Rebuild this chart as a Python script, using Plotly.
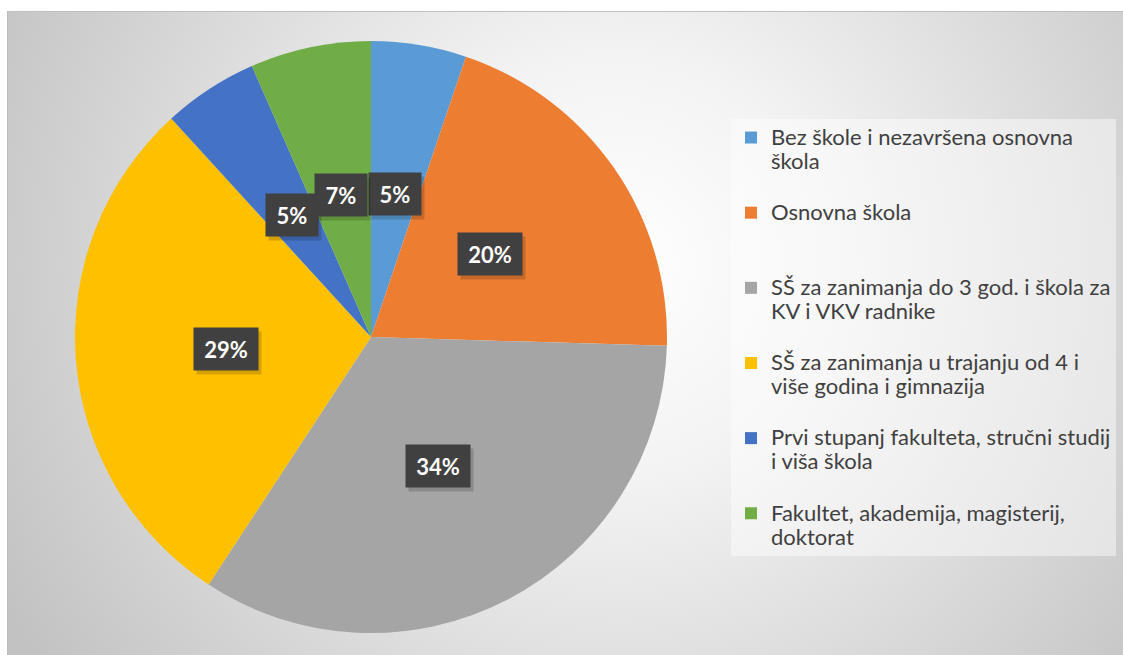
import base64
import math
import plotly.graph_objects as go

categories = [
    "Bez škole i nezavršena osnovna<br>škola",
    "Osnovna škola",
    "SŠ za zanimanja do 3 god. i škola za<br>KV i VKV radnike",
    "SŠ za zanimanja u trajanju od 4 i<br>više godina i gimnazija",
    "Prvi stupanj fakulteta, stručni studij<br>i viša škola",
    "Fakultet, akademija, magisterij,<br>doktorat",
]
values = [5.2, 20.3, 33.8, 29.0, 5.2, 6.6]
colors = ["#5B9BD5", "#ED7D31", "#A5A5A5", "#FFC000", "#4472C4", "#70AD47"]

W, H = 1123, 655
FONT = "Lato, 'Open Sans', sans-serif"


def legend_text(s, last=False):
    lines = s.split("<br>")
    while len(lines) < (2 if last else 3):
        lines.append("\u00a0")
    return "<br>".join(f'<span style="font-size:22px">{ln}</span>' for ln in lines)


legend_labels = [legend_text(c, i == len(categories) - 1) for i, c in enumerate(categories)]

# pie geometry in page pixels
cx, cy_top, R = 371, 337, 296
dom_x = [(cx - R) / W, (cx + R) / W]
dom_y = [(H - cy_top - R) / H, (H - cy_top + R) / H]

svg = f'''<svg xmlns="http://www.w3.org/2000/svg" width="{W}" height="{H}" viewBox="0 0 {W} {H}" preserveAspectRatio="none">
<defs><radialGradient id="g" cx="615" cy="265" r="700" gradientUnits="userSpaceOnUse">
<stop offset="0" stop-color="#ffffff"/><stop offset="0.3" stop-color="#f3f3f3"/>
<stop offset="1" stop-color="#c2c2c2"/></radialGradient></defs>
<rect x="7.5" y="11.5" width="{W + 10}" height="{H + 10}" fill="url(#g)" stroke="#bdbdbd" stroke-width="1"/>
</svg>'''
bg_uri = "data:image/svg+xml;base64," + base64.b64encode(svg.encode()).decode()

fig = go.Figure(
    go.Pie(
        labels=legend_labels,
        values=values,
        marker=dict(colors=colors, line=dict(width=0)),
        sort=False,
        direction="clockwise",
        rotation=0,
        textinfo="none",
        domain=dict(x=dom_x, y=dom_y),
        hovertemplate="%{percent:.0%}<extra></extra>",
    )
)

# data labels placed at mid-angle of each slice, derived from values
total = sum(values)
cum = 0.0
annotations = []
for v in values:
    mid = (cum + v / 2) / total * 2 * math.pi
    cum += v
    pct = f"{round(v / total * 100):.0f}%"
    px = cx + 0.49 * R * math.sin(mid)
    py = (H - cy_top) + 0.49 * R * math.cos(mid)
    wbox = 20 + 12 * len(pct)
    common = dict(x=px / W, y=py / H, xref="paper", yref="paper", showarrow=False,
                  xanchor="center", yanchor="middle", width=wbox, height=34, borderpad=4)
    annotations.append(dict(
        text="\u00a0", font=dict(family=FONT, size=22, color="rgba(0,0,0,0)"),
        bgcolor="rgba(0,0,0,0.16)", xshift=3, yshift=-4, **common))
    annotations.append(dict(
        text=f"<b>{pct}</b>", font=dict(family=FONT, size=22, color="white"),
        bgcolor="#404040", **common))

fig.update_layout(
    width=W, height=H,
    margin=dict(l=0, r=0, t=0, b=0),
    paper_bgcolor="white",
    plot_bgcolor="white",
    images=[dict(source=bg_uri, xref="paper", yref="paper", x=0, y=1, sizex=1, sizey=1,
                 xanchor="left", yanchor="top", sizing="stretch", layer="below")],
    showlegend=True,
    legend=dict(
        x=731 / W, y=1 - 119 / H, xanchor="left", yanchor="top",
        bgcolor="rgba(255,255,255,0.45)",
        font=dict(family=FONT, size=18.5, color="#404040"),
        valign="top",
        itemclick=False, itemdoubleclick=False,
    ),
    annotations=annotations,
)

fig.write_html("out.html",
               config={"displayModeBar": False},
               post_script="document.body.style.margin='0';document.body.style.overflow='hidden';")
